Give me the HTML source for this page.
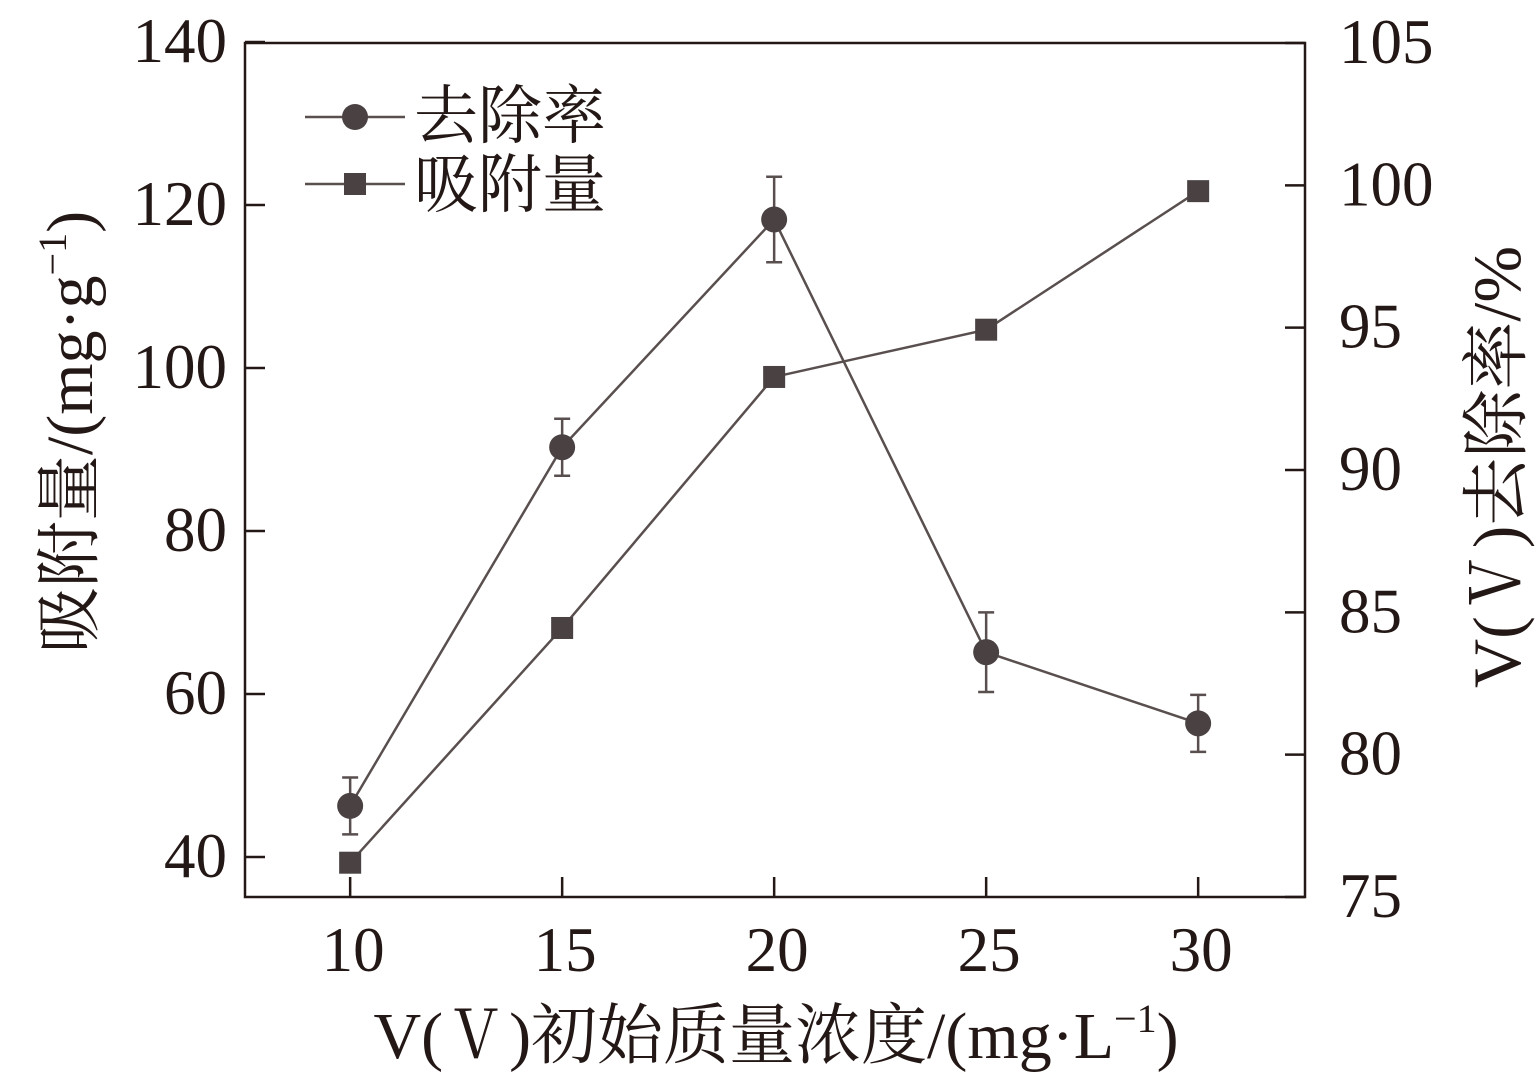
<!DOCTYPE html>
<html><head><meta charset="utf-8"><style>
html,body{margin:0;padding:0;background:#fff;}
svg text{font-family:"Liberation Serif","Noto Serif CJK SC",serif;fill:#231815;}
</style></head><body>
<svg id="chart" width="1538" height="1075" viewBox="0 0 1538 1075" xmlns="http://www.w3.org/2000/svg">
<g id="axes"></g>
<g id="series"></g>
<g id="legend">
  <line x1="305" y1="117" x2="405" y2="117" stroke="#594f4f" stroke-width="2.5"/>
  <circle cx="355" cy="117" r="13" fill="#4a4242"/>
  <text x="414" y="138" font-size="64">去除率</text>
  <line x1="305" y1="184" x2="405" y2="184" stroke="#594f4f" stroke-width="2.5"/>
  <rect x="344" y="173" width="22" height="22" fill="#4a4242"/>
  <text x="414" y="207" font-size="64">吸附量</text>
</g>
<text x="776" y="1058" font-size="66" text-anchor="middle">V(Ⅴ)初始质量浓度/(mg·L<tspan font-size="40" dy="-26">−1</tspan><tspan dy="26">)</tspan></text>
<text transform="translate(92,432) rotate(-90)" font-size="66" text-anchor="middle">吸附量/(mg·g<tspan font-size="40" dy="-26">−1</tspan><tspan dy="26">)</tspan></text>
<text transform="translate(1520,467) rotate(-90)" font-size="68" text-anchor="middle">V(Ⅴ)去除率/%</text>
</svg>
<script>
const categories=[10,15,20,25,30];
const adsorption=[39.3,68.1,98.9,104.7,121.7];
const removal=[78.2,90.8,98.8,83.6,81.1];
const removalErr=[1.0,1.0,1.5,1.4,1.0];
const leftTicks=[40,60,80,100,120,140];
const rightTicks=[75,80,85,90,95,100,105];
const xTicks=[10,15,20,25,30];
const NS='http://www.w3.org/2000/svg';
const L=245,R=1305,T=43,B=897;
const xS=v=>L+(v-7.52)/(32.52-7.52)*(R-L);
const yL=v=>857-(v-40)*8.15;
const yR=v=>B-(v-75)/(105-75)*(B-T);
const col='#594f4f',mk='#4a4242';
function mkEl(tag,attrs,parent){const e=document.createElementNS(NS,tag);for(const k in attrs)e.setAttribute(k,attrs[k]);parent.appendChild(e);return e;}
const ax=document.getElementById('axes'),se=document.getElementById('series');
let e=mkEl('rect',{x:L,y:T,width:R-L,height:B-T,fill:'none',stroke:'#231815','stroke-width':2.5},ax);


leftTicks.forEach(t=>{const y=yL(t);
 let l=mkEl('line',{x1:L,x2:L+20,y1:y,y2:y,stroke:'#231815','stroke-width':2.5},ax);
 
 
 let tx=mkEl('text',{x:L-18,y:y+20,'font-size':63,'text-anchor':'end'},ax);tx.textContent=t;
 
 });
rightTicks.forEach(t=>{const y=yR(t);
 let l=mkEl('line',{x1:R-20,x2:R,y1:y,y2:y,stroke:'#231815','stroke-width':2.5},ax);
 
 
 let tx=mkEl('text',{x:R+34,y:y+20,'font-size':63},ax);tx.textContent=t;
 
 });
xTicks.forEach(t=>{const x=xS(t);
 let l=mkEl('line',{x1:x,x2:x,y1:B-20,y2:B,stroke:'#231815','stroke-width':2.5},ax);
 
 
 let tx=mkEl('text',{x:x+3,y:971,'font-size':63,'text-anchor':'middle'},ax);tx.textContent=t;
 
 });
let p=mkEl('polyline',{points:categories.map((c,i)=>xS(c)+','+yL(adsorption[i])).join(' '),fill:'none',stroke:col,'stroke-width':2.5},se);


p=mkEl('polyline',{points:categories.map((c,i)=>xS(c)+','+yR(removal[i])).join(' '),fill:'none',stroke:col,'stroke-width':2.5},se);


categories.forEach((c,i)=>{const x=xS(c);
 const y1=yR(removal[i]+removalErr[i]),y2=yR(removal[i]-removalErr[i]);
 let g=mkEl('path',{d:`M${x},${y1}V${y2}M${x-8},${y1}H${x+8}M${x-8},${y2}H${x+8}`,stroke:col,'stroke-width':2.5,fill:'none'},se);
 
 
 let r=mkEl('rect',{x:x-11,y:yL(adsorption[i])-11,width:22,height:22,fill:mk},se);
 
 
 let ci=mkEl('circle',{cx:x,cy:yR(removal[i]),r:13,fill:mk},se);
 
 });
</script>
</body></html>
